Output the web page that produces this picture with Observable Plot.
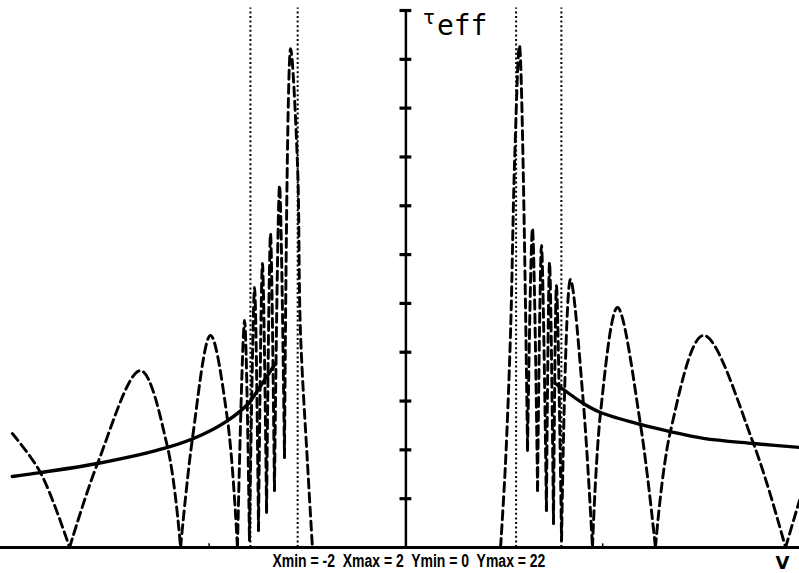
<!DOCTYPE html>
<html>
<head>
<meta charset="utf-8">
<script src="https://cdn.jsdelivr.net/npm/d3@7"></script>
<script src="https://cdn.jsdelivr.net/npm/@observablehq/plot@0.6"></script>
<style>
  html, body { margin: 0; padding: 0; background: #fff; }
  svg { display: block; background: #fff; }
</style>
</head>
<body>
<div id="chart"></div>
<script>
// Axis settings shown in the caption
const xMin = -2, xMax = 2, yMin = 0, yMax = 22;
const yTicks = [2, 4, 6, 8, 10, 12, 14, 16, 18, 20, 22];
const xTicks = [-1, 1];

// Dotted vertical lines
const dotX = [-0.79, -0.55, 0.56, 0.79];

// Solid curve (left and right branches)
const solidLeftX  = [-2.0, -1.857, -1.567, -1.211, -1.044, -0.906, -0.800, -0.754, -0.663];
const solidLeftY  = [2.91, 3.07, 3.44, 4.10, 4.59, 5.20, 5.90, 6.43, 7.54];
const solidRightX = [0.760, 0.786, 0.902, 0.989, 1.192, 1.344, 1.512, 1.766, 2.0];
const solidRightY = [6.72, 6.56, 5.90, 5.53, 5.04, 4.75, 4.47, 4.26, 4.10];

// Dashed oscillating curve
const dashedX = [
  -2.0, -1.857, -1.709, -1.567, -1.349, -1.211, -1.145, -1.084, -0.993, -0.906, -0.856,
  -0.820, -0.795, -0.769, -0.749, -0.729, -0.708, -0.688, -0.668, -0.642, -0.617,
  -0.586, -0.551, -0.536, -0.500, -0.475,
  0.481, 0.506, 0.532, 0.552, 0.577, 0.618, 0.643, 0.669, 0.689, 0.714, 0.730, 0.750,
  0.765, 0.791, 0.836, 0.902, 0.948, 0.989, 1.075, 1.192, 1.268, 1.344, 1.512, 1.766,
  1.929, 2.0
];
const dashedY = [
  4.67, 3.07, 0, 3.44, 7.25, 4.10, 0, 4.51, 8.69, 5.20, 0,
  9.30, 0.29, 10.65, 0.70, 11.64, 1.43, 12.86, 2.34, 14.83, 3.69,
  20.44, 15.73, 8.89, 3.44, 0,
  0, 3.44, 8.89, 15.73, 20.57, 3.97, 13.07, 2.34, 12.37, 1.52, 11.68, 0.98,
  10.73, 0.29, 10.98, 5.90, 0, 5.53, 9.83, 5.04, 0, 4.75, 8.69, 4.26,
  0, 1.93
];

const caption = `Xmin = ${xMin}  Xmax = ${xMax}  Ymin = ${yMin}  Ymax = ${yMax}`;

// Build tables
const solidRows = [
  ...solidLeftX.map((x, i) => ({x, y: solidLeftY[i], side: "L"})),
  ...solidRightX.map((x, i) => ({x, y: solidRightY[i], side: "R"}))
];

// Split the dashed curve into arcs at local minima
let rows = [], arc = 0;
for (let i = 0; i < dashedX.length; i++) {
  const y = dashedY[i];
  const isMin = i > 0 && i < dashedX.length - 1 && y <= dashedY[i - 1] && y <= dashedY[i + 1];
  rows.push({x: dashedX[i], y, arc});
  if (isMin) { arc++; rows.push({x: dashedX[i], y, arc}); }
}
const arcMax = d3.rollup(rows, v => d3.max(v, d => d.y), d => d.arc);
const dashedRows = rows.filter(d => arcMax.get(d.arc) > 0);

const chart = Plot.plot({
  width: 799,
  height: 573,
  marginLeft: 0,
  marginRight: 0,
  marginTop: 10,
  marginBottom: 26,
  x: {domain: [-2.06, 2], axis: null},
  y: {domain: [yMin, yMax], axis: null},
  style: {background: "#fff"},
  marks: [
    Plot.ruleY([0], {x1: -2.06, x2: 2, stroke: "black", strokeWidth: 2.8}),
    Plot.ruleX(xTicks, {y1: 0, y2: 0.15, stroke: "black", strokeWidth: 1.5}),
    Plot.ruleX([0], {y1: 0, y2: yMax, stroke: "black", strokeWidth: 2.5}),
    Plot.ruleY(yTicks, {x1: -0.03, x2: 0.03, stroke: "black", strokeWidth: 3.2}),
    Plot.ruleX(dotX, {y1: 0, y2: 22.1, stroke: "black", strokeWidth: 2, strokeDasharray: "2,2.6"}),
    Plot.line(solidRows, {x: "x", y: "y", z: "side", curve: "catmull-rom", stroke: "black", strokeWidth: 3.4}),
    Plot.line(dashedRows, {x: "x", y: "y", z: "arc", curve: "catmull-rom", stroke: "black", strokeWidth: 2.9, strokeDasharray: "9,5"}),
    Plot.text(["τ"], {x: 0, y: yMax, dx: 23, dy: 7, fontSize: 19, fontFamily: "DejaVu Sans", textAnchor: "middle", lineAnchor: "middle", fill: "black"}),
    Plot.text(["eff"], {x: 0, y: yMax, dx: 31, dy: 16, fontSize: 28, fontFamily: "DejaVu Sans Mono", textAnchor: "start", lineAnchor: "middle", fill: "black"}),
    Plot.text([caption], {x: 0, y: 0, dx: 3, dy: 14, fontSize: 18, fontWeight: "bold", fontFamily: "Liberation Sans Narrow, Liberation Sans, sans-serif", textAnchor: "middle", lineAnchor: "middle", fill: "black", className: "cap"}),
    Plot.text(["V"], {x: 2, y: 0, dx: -17, dy: 16, fontSize: 18, fontWeight: "bold", fontFamily: "DejaVu Sans", textAnchor: "middle", lineAnchor: "middle", fill: "black"})
  ]
});
document.getElementById("chart").appendChild(chart);
const cap = chart.querySelector(".cap text");
if (cap) { cap.setAttribute("textLength", "273"); cap.setAttribute("lengthAdjust", "spacingAndGlyphs"); }
</script>
</body>
</html>
